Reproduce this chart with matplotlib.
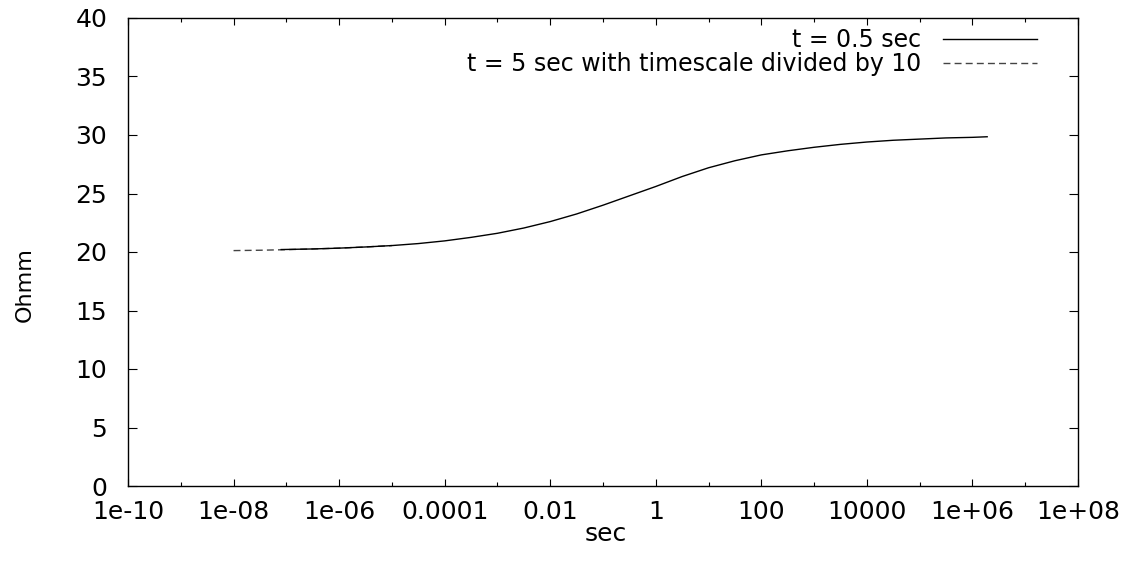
import matplotlib
matplotlib.use("Agg")
import matplotlib.pyplot as plt
from matplotlib.ticker import FixedLocator, NullFormatter

# resistivity curve (half-decade steps)
t_solid = [8e-8, 3.16e-7, 1e-6, 3.16e-6, 1e-5, 3.16e-5, 1e-4, 3.16e-4, 1e-3,
           3.16e-3, 1e-2, 3.16e-2, 1e-1, 3.16e-1, 1, 3.16, 10, 31.6, 100,
           316, 1e3, 3.16e3, 1e4, 3.16e4, 1e5, 3.16e5, 1e6, 1.9e6]
r_solid = [20.21, 20.26, 20.33, 20.43, 20.55, 20.72, 20.95, 21.25, 21.6,
           22.05, 22.6, 23.25, 24.0, 24.8, 25.6, 26.45, 27.2, 27.8, 28.3,
           28.65, 28.95, 29.2, 29.4, 29.55, 29.65, 29.75, 29.8, 29.85]

t_dash = [1e-8, 3.16e-8, 1e-7, 3.16e-7, 1e-6, 3.16e-6, 1e-5]
r_dash = [20.12, 20.15, 20.2, 20.26, 20.33, 20.43, 20.55]

major_x = [1e-10, 1e-8, 1e-6, 1e-4, 1e-2, 1, 1e2, 1e4, 1e6, 1e8]
major_lbl = ["1e-10", "1e-08", "1e-06", "0.0001", "0.01", "1", "100",
             "10000", "1e+06", "1e+08"]
minor_x = [1e-9, 1e-7, 1e-5, 1e-3, 1e-1, 10, 1e3, 1e5, 1e7]
y_ticks = [0, 5, 10, 15, 20, 25, 30, 35, 40]

plt.rcParams['font.family'] = ['DejaVu Sans']
fs = 18

fig = plt.figure(figsize=(11.37, 5.63), dpi=100)
ax = fig.add_axes([128 / 1137, 1 - 486 / 563, 950 / 1137, 468 / 563])

ax.plot(t_dash, r_dash, color='#444444', lw=1.0, ls=(0, (5, 3)),
        label='t = 5 sec with timescale divided by 10')
ax.plot(t_solid, r_solid, color='black', lw=1.0, label='t = 0.5 sec')

ax.set_xscale('log')
ax.set_xlim(1e-10, 1e8)
ax.set_ylim(0, 40)
ax.xaxis.set_major_locator(FixedLocator(major_x))
ax.xaxis.set_minor_locator(FixedLocator(minor_x))
ax.set_xticklabels(major_lbl)
ax.xaxis.set_minor_formatter(NullFormatter())
ax.set_yticks(y_ticks)

ax.tick_params(axis='both', which='both', direction='in', top=True,
               right=True, labelsize=fs, width=0.8)
ax.tick_params(axis='y', which='major', length=6.5, pad=15)
ax.tick_params(axis='x', which='major', length=5, pad=10)
ax.tick_params(axis='x', which='minor', length=3)
for s in ax.spines.values():
    s.set_linewidth(1.0)

ax.set_xlabel('sec', fontsize=fs)
ax.xaxis.label.set_va('baseline')
ax.xaxis.set_label_coords(0.503, (486 - 541) / 468)
ax.set_ylabel('Ohmm', fontsize=16)
ax.yaxis.label.set_va('center')
ax.yaxis.set_label_coords((25 - 128) / 950, (486 - 285) / 468)

h, l = ax.get_legend_handles_labels()
ax.legend(h[::-1], l[::-1], loc='upper right', frameon=False,
          markerfirst=False, fontsize=17, handlelength=4.0,
          handletextpad=0.9, labelspacing=0.0, borderpad=0,
          borderaxespad=0,
          bbox_to_anchor=(1037 / 1137, 1 - 28 / 563),
          bbox_transform=fig.transFigure)

fig.savefig('out.png', dpi=100)
